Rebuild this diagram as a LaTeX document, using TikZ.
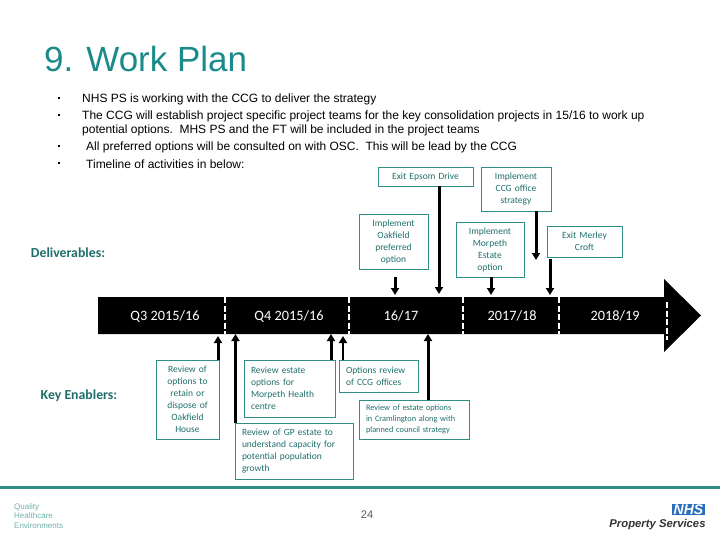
\documentclass[tikz,border=0pt]{standalone}
\usepackage{fontspec}
\setmainfont{Liberation Sans}
\newfontfamily\boxfont{Carlito}
\usetikzlibrary{
    arrows.meta,
    positioning
}
\definecolor{planteal}{HTML}{1B8A8A}
\definecolor{boxteal}{HTML}{2F8F88}
\definecolor{boxtext}{HTML}{1F6F6C}
\definecolor{nhsblue}{HTML}{2A6EBB}
\tikzset{
    planbox/.style 2 args={draw=boxteal,line width=0.9pt,text=boxtext,inner xsep=4pt,inner ysep=0pt,
        text width=#1pt-8pt,minimum height=#2pt,align=center,font=\boxfont\fontsize{9.5}{12}\selectfont},
    leftbox/.style={align=left,inner xsep=7pt},
    yearlabel/.style={text=white,font=\boxfont\fontsize{14.3}{16}\selectfont},
    sidelabel/.style={text=boxtext,font=\boxfont\bfseries\fontsize{13.8}{16}\selectfont},
    bodyline/.style={anchor=west,inner sep=0pt,font=\fontsize{12}{14}\selectfont},
    yeardash/.style={white,line width=1.5pt,dash pattern=on 6pt off 2.5pt},
    planarrow/.style={line width=3pt,-{Triangle[length=7pt,width=8pt]}},
    thinarrow/.style={line width=2pt,-{Triangle[length=7pt,width=8pt]}}
}
\begin{document}
\begin{tikzpicture}[x=1pt,y=-1pt]
    \useasboundingbox (0,0) rectangle (720,540);
    % heading and bullets
    \node [anchor=west,inner sep=0pt,text=planteal,font=\fontsize{35}{38}\selectfont] (title) at (44,58.5) {9. Work Plan};
    \foreach \y in {98,115,146,163} \fill (58,\y-1) rectangle +(2,2.5);
    \path (82,99)  node [bodyline] (lineone) {NHS PS is working with the CCG to deliver the strategy}
          (82,116) node [bodyline] (linetwo) {The CCG will establish project specific project teams for the key consolidation projects in 15/16 to work up}
          (82,130) node [bodyline] (linethree) {potential options.\ \ MHS PS and the FT will be included in the project teams}
          (86,147) node [bodyline] (linefour) {All preferred options will be consulted on with OSC.\ \ This will be lead by the CCG}
          (86,164) node [bodyline] (linefive) {Timeline of activities in below:};

    % timeline bar
    \fill (98,297) -- (664,297) -- (664,279) -- (701,315.5) -- (664,352) -- (664,334) -- (98,334) -- cycle;
    \foreach \x in {225,349,463,559} \draw [yeardash] (\x,297) -- (\x,334);
    \draw [yeardash] (667,302) -- (667,340);
    \path (165,316) node [yearlabel] (qthree) {Q3 2015/16}
          (289,316) node [yearlabel] (qfour) {Q4 2015/16}
          (401,316) node [yearlabel] (ysixteen) {16/17}
          (512,316) node [yearlabel] (yseventeen) {2017/18}
          (615,316) node [yearlabel] (yeighteen) {2018/19};
    \node [sidelabel] (deliv) at (68,253) {Deliverables:};
    \node [sidelabel] (enablers) at (79,396) {Key Enablers:};

    % deliverables
    \node [planbox={95}{19}] (epsom) at (425.5,176.5) {Exit Epsom Drive};
    \node [planbox={70}{44}] (ccg) at (516,189) {Implement\\CCG office\\strategy};
    \node [planbox={69}{55}] (oakfield) at (393.5,241.5) {Implement\\Oakfield\\preferred\\option};
    \node [planbox={68}{55}] (morpeth) at (490,249.5) {Implement\\Morpeth\\Estate\\option};
    \node [planbox={75}{31}] (merley) at (584.5,241.5) {Exit Merley\\Croft};
    \coordinate (oakfieldstart) at (395,277);
    \coordinate (oakfieldend) at (395,295);
    \coordinate (epsomend) at (439,294);
    \coordinate (morpethend) at (491,295);
    \coordinate (ccgend) at (536,260);
    \coordinate (merleystart) at (550,259);
    \coordinate (merleyend) at (550,295);
    \draw [planarrow] (oakfieldstart) -- (oakfieldend);
    \draw [planarrow] (epsom.south -| epsomend) -- (epsomend);
    \draw [planarrow] (morpeth.south -| morpethend) -- (morpethend);
    \draw [planarrow] (ccg.south -| ccgend) -- (ccgend);
    \draw [planarrow] (merleystart) -- (merleyend);

    % enablers
    \node [planbox={63}{79}] (retain) at (187.5,399.5) {Review of\\options to\\retain or\\dispose of\\Oakfield\\House};
    \node [planbox={85}{57},leftbox] (estate) at (289.5,388.5) {Review estate\\options for\\Morpeth Health\\centre};
    \node [planbox={73}{32},leftbox] (offices) at (378.5,376) {Options review\\of CCG offices};
    \node [planbox={104}{39},leftbox,font=\boxfont\fontsize{8.3}{11}\selectfont] (cramlington) at (414,419.5) {Review of estate options\\in Cramlington along with\\planned council strategy};
    \node [planbox={112}{56},leftbox] (gpestate) at (294,451) {Review of GP estate to\\understand capacity for\\potential population\\growth};
    \coordinate (retainend) at (218,336);
    \coordinate (estateend) at (331,334);
    \coordinate (officesend) at (343,336);
    \coordinate (cramlingtonend) at (428,334);
    \coordinate (gpestateend) at (235.5,334);
    \draw [planarrow] (retain.north -| retainend) -- (retainend);
    \draw [planarrow] (estate.north -| estateend) -- (estateend);
    \draw [thinarrow] (offices.north -| officesend) -- (officesend);
    \draw [planarrow] (cramlington.north -| cramlingtonend) -- (cramlingtonend);
    \draw [planarrow] (gpestate.north -| gpestateend) -- (gpestateend);

    % footer
    \fill [boxteal] (0,485.5) rectangle (720,489);
    \node [text=black!65,font=\fontsize{11}{13}\selectfont] (pagenum) at (367,515) {24};
    \node [anchor=north west,inner sep=0pt,align=left,text=boxteal!70,font=\fontsize{8}{9.5}\selectfont] (quality) at (14,503) {Quality\\Healthcare\\Environments};
    \node [fill=nhsblue,text=white,inner xsep=1.5pt,inner ysep=1pt,font=\bfseries\itshape\fontsize{14}{14}\selectfont] (nhs) at (688.5,509.5) {NHS};
    \node [inner sep=0pt,text=black!80,font=\bfseries\itshape\fontsize{11.3}{13}\selectfont] (propserv) at (657.5,525) {Property Services};
\end{tikzpicture}
\end{document}
